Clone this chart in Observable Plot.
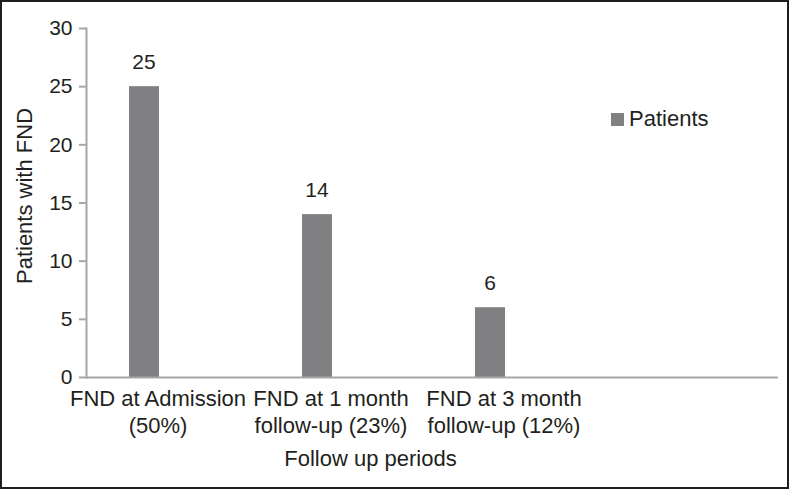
<!DOCTYPE html>
<html><head><meta charset="utf-8">
<script src="https://cdn.jsdelivr.net/npm/d3@7"></script>
<script src="https://cdn.jsdelivr.net/npm/@observablehq/plot@0.6"></script>
<style>
body{margin:0;background:#fff;font-family:"Liberation Sans",Arial,sans-serif;}
#wrap{position:relative;width:789px;height:489px;overflow:hidden;background:#fff}
#border{position:absolute;left:0;top:0;width:789px;height:489px;border:2px solid #1e1e1e;pointer-events:none;box-sizing:border-box}
#legend{position:absolute;left:611px;top:106px;display:flex;align-items:center;font-size:22px;color:#231f20}
#legend .sw{width:13px;height:13px;background:#808083;margin-right:5px}
</style></head><body><div id="wrap"><div id="legend"><div class="sw"></div><span id="legtext"></span></div><div id="border"></div></div>
<script>
const categories = ["FND at Admission\n(50%)", "FND at 1 month\nfollow-up (23%)", "FND at 3 month\nfollow-up (12%)", " "];
const patients = [25, 14, 6];
const yTicks = [0, 5, 10, 15, 20, 25, 30];
const seriesName = "Patients";
const yTitle = "Patients with FND";
const xTitle = "Follow up periods";

const data = patients.map((v, i) => ({category: categories[i], value: v}));
document.getElementById("legtext").textContent = seriesName;

const chart = Plot.plot({
  width: 789,
  height: 489,
  marginLeft: 86,
  marginRight: 11,
  marginTop: 28,
  marginBottom: 112,
  style: {fontFamily: "'Liberation Sans', Arial, sans-serif", color: "#231f20", background: "transparent"},
  x: {domain: categories, padding: 0, axis: null},
  y: {domain: [0, 30], axis: null},
  marks: [
    Plot.barY(data, {x: "category", y: "value", fill: "#808083", insetLeft: 43, insetRight: 100}),
    Plot.text(data, {x: "category", y: "value", text: d => String(d.value), dx: -29, dy: -18, lineAnchor: "bottom", fontSize: 21, fill: "#231f20"}),
    Plot.axisY({ticks: yTicks, tickSize: 7, tickPadding: 7, fontSize: 21, stroke: "#a6a6a6", strokeWidth: 2, fill: "#231f20", label: null}),
    Plot.axisX({tickSize: 0, tickPadding: 9, fontSize: 22, dx: -15, fill: "#231f20", lineHeight: 1.23, label: null, tickFormat: d => d}),
    Plot.ruleY([0], {stroke: "#a6a6a6", strokeWidth: 2}),
    Plot.frame({anchor: "left", stroke: "#a6a6a6", strokeWidth: 2}),
    Plot.text([yTitle], {frameAnchor: "left", textAnchor: "middle", rotate: -90, dx: -62, dy: -7, fontSize: 22, fill: "#231f20"}),
    Plot.text([xTitle], {frameAnchor: "bottom", textAnchor: "middle", dx: -62, dy: 88, fontSize: 22, fill: "#231f20"})
  ]
});
chart.style.position = "absolute";
chart.style.left = "0";
chart.style.top = "0";
document.getElementById("wrap").insertBefore(chart, document.getElementById("legend"));
</script>
</body></html>
